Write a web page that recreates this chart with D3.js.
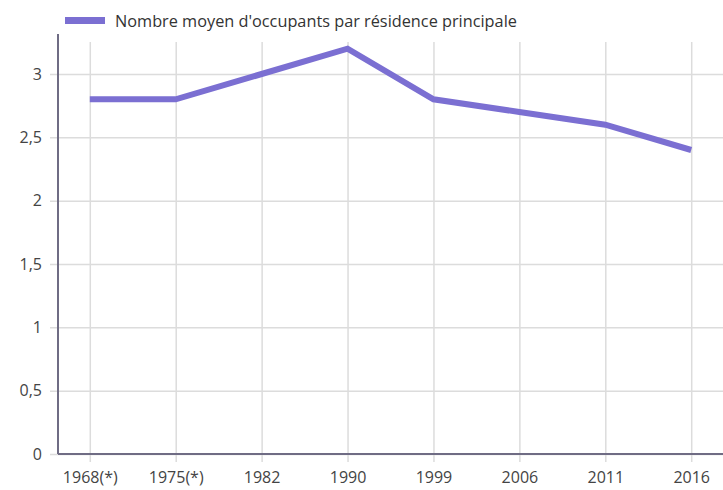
<!DOCTYPE html>
<html>
<head>
<meta charset="utf-8">
<script src="https://cdn.jsdelivr.net/npm/d3@7"></script>
<style>
  body { margin: 0; background: #fff; }
  text { font-family: "Open Sans", "DejaVu Sans", sans-serif; }
</style>
</head>
<body>
<div id="chart"></div>
<script>
// data
const years = ["1968(*)", "1975(*)", "1982", "1990", "1999", "2006", "2011", "2016"]
const occupants = [2.8, 2.8, 3.0, 3.2, 2.8, 2.7, 2.6, 2.4]
const yTicks = [0, 0.5, 1, 1.5, 2, 2.5, 3]
const seriesName = "Nombre moyen d'occupants par résidence principale"

const width = 723, height = 490
const margin = { top: 36, right: 0, bottom: 36, left: 58 }
const lineColor = "#7b6fd2"
const fontSize = 16

let svg = d3.select("#chart").append("svg")
    .attr("width", width)
    .attr("height", height)

let x = d3.scalePoint()
    .domain(years)
    .range([margin.left, width - margin.right])
    .padding(0.37)

let y = d3.scaleLinear()
    .domain([0, 3.3])
    .range([height - margin.bottom, margin.top])

const fmt = d => String(d).replace(".", ",")

// horizontal grid + y ticks
let yAxis = svg.append("g")
    .attr("transform", "translate(" + margin.left + ",0)")
    .call(d3.axisLeft(y).tickValues(yTicks).tickFormat(fmt)
        .tickSize(-(width - margin.left - margin.right)).tickPadding(16))
yAxis.select(".domain").remove()
yAxis.selectAll(".tick line").attr("stroke", "#dcdcdc").attr("stroke-width", 1.5)
    .attr("x1", -8)
yAxis.selectAll(".tick text").attr("fill", "#444").attr("font-size", fontSize)

// vertical grid + x ticks
let xAxis = svg.append("g")
    .attr("transform", "translate(0," + (height - margin.bottom) + ")")
    .call(d3.axisBottom(x).tickSize(-(height - margin.bottom - 42)).tickPadding(18))
xAxis.select(".domain").remove()
xAxis.selectAll(".tick line").attr("stroke", "#dcdcdc").attr("stroke-width", 1.5)
    .attr("y1", 8)
xAxis.selectAll(".tick text").attr("fill", "#444").attr("font-size", fontSize)

// axis lines
svg.append("line")
    .attr("x1", margin.left).attr("x2", margin.left)
    .attr("y1", margin.top - 2).attr("y2", y(0))
    .attr("stroke", "#6f6c84").attr("stroke-width", 2)
svg.append("line")
    .attr("x1", margin.left).attr("x2", width)
    .attr("y1", y(0)).attr("y2", y(0))
    .attr("stroke", "#6f6c84").attr("stroke-width", 2)

// the line
let line = d3.line()
    .x((d, i) => x(years[i]))
    .y(d => y(d))

svg.append("path")
    .datum(occupants)
    .attr("fill", "none")
    .attr("stroke", lineColor)
    .attr("stroke-width", 6)
    .attr("stroke-linejoin", "miter")
    .attr("d", line)

// legend
svg.append("rect")
    .attr("x", 65).attr("y", 17)
    .attr("width", 40).attr("height", 7)
    .attr("fill", lineColor)
svg.append("text")
    .attr("x", 115).attr("y", 27)
    .attr("font-size", 16.3)
    .attr("fill", "#333")
    .text(seriesName)
</script>
</body>
</html>
